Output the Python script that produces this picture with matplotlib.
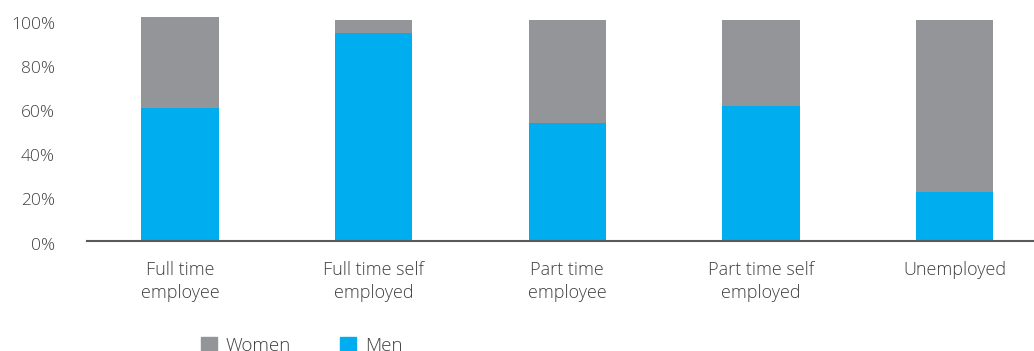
import matplotlib.pyplot as plt
import numpy as np
from matplotlib.patches import Patch
from matplotlib import transforms

categories = ["Full time\nemployee", "Full time self\nemployed", "Part time\nemployee",
              "Part time self\nemployed", "Unemployed"]
men = [60, 94, 53, 61, 22]
women = [41, 6, 47, 39, 78]

blue = "#00AEEF"
grey = "#939598"
text_col = "#404040"

plt.rcParams['font.family'] = ['Open Sans', 'DejaVu Sans']

fig = plt.figure(figsize=(10.34, 3.51), dpi=100)
ax = fig.add_axes([0.0841, 0.3148, 0.9159, 0.6420])

x = np.arange(len(categories))
ax.bar(x, men, width=0.4, color=blue, zorder=2)
ax.bar(x, women, width=0.4, bottom=men, color=grey, zorder=2)

ax.set_xlim(-0.48, 4.41)
ax.set_ylim(0, 102)
ax.set_yticks(np.arange(0, 101, 20))
ax.set_yticklabels([f"{v}%" for v in range(0, 101, 20)])
ax.set_xticks(x)
ax.set_xticklabels(categories, linespacing=1.32, fontsize=13, fontweight="light")

for s in ["top", "right", "left"]:
    ax.spines[s].set_visible(False)
ax.spines["bottom"].set_color("#595959")
ax.spines["bottom"].set_linewidth(1.5)
ax.spines["bottom"].set_zorder(3)

ax.tick_params(axis="y", length=0, pad=23, labelsize=12.5, labelcolor=text_col)
ax.tick_params(axis="x", length=0, pad=15, labelcolor=text_col)
shift = transforms.ScaledTranslation(0, -3 / 100, fig.dpi_scale_trans)
for lab in ax.get_yticklabels():
    lab.set_fontweight("light")
    lab.set_transform(lab.get_transform() + shift)

handles = [Patch(color=grey, label="Women"), Patch(color=blue, label="Men")]
fig.legend(handles=handles, loc="center left", bbox_to_anchor=(0.194, 0.015), ncol=2,
           frameon=False, prop={"size": 13.5, "weight": "light"},
           labelcolor=text_col, handlelength=0.85, handleheight=0.85,
           handletextpad=0.5, columnspacing=2.6, borderpad=0.0, borderaxespad=0.0)

fig.savefig("out.png", dpi=100)
